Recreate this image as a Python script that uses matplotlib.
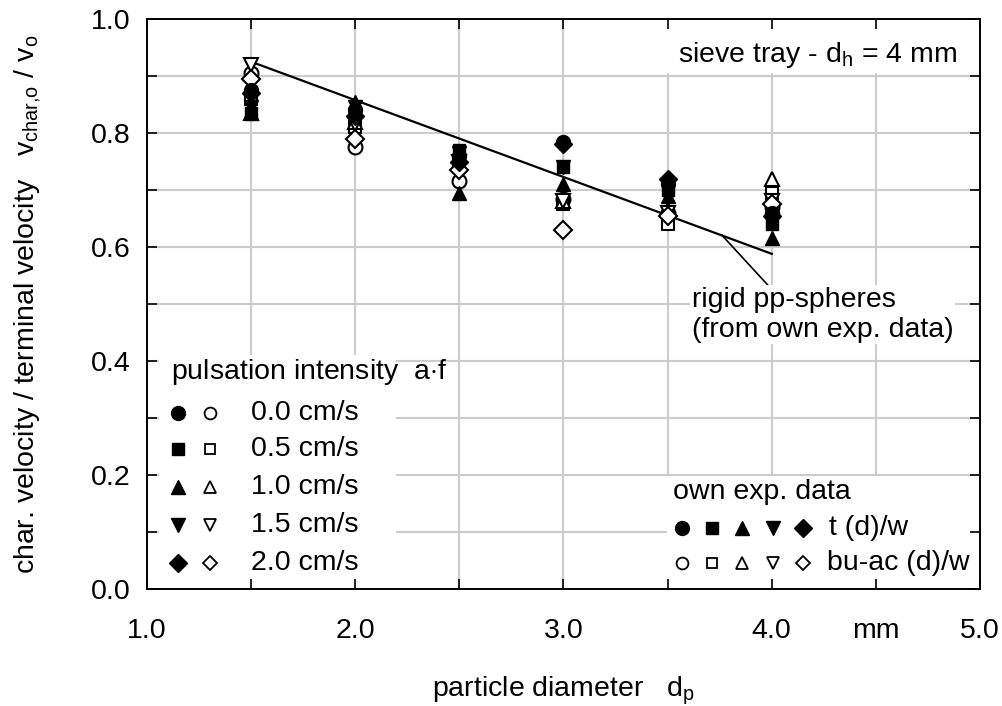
import numpy as np
import matplotlib
matplotlib.use("Agg")
import matplotlib.pyplot as plt
from matplotlib.patches import Rectangle

plt.rcParams["font.family"] = ["Liberation Sans", "DejaVu Sans"]
plt.rcParams["mathtext.fontset"] = "custom"
plt.rcParams["mathtext.rm"] = "Liberation Sans"
plt.rcParams["mathtext.it"] = "Liberation Sans"

# particle diameters (mm)
d_p = [1.5, 2.0, 2.5, 3.0, 3.5, 4.0]

# t (d)/w  -> filled markers, one list per pulsation intensity
t_00 = [0.875, 0.840, 0.760, 0.785, 0.710, 0.660]
t_05 = [0.835, 0.835, 0.770, 0.740, 0.700, 0.640]
t_10 = [0.835, 0.855, 0.695, 0.710, 0.690, 0.615]
t_15 = [0.845, 0.845, 0.765, 0.740, 0.700, 0.650]
t_20 = [0.870, 0.830, 0.750, 0.780, 0.720, 0.655]

# bu-ac (d)/w -> open markers
b_00 = [0.905, 0.775, 0.715, 0.685, 0.660, 0.670]
b_05 = [0.860, 0.810, 0.745, 0.675, 0.640, 0.695]
b_10 = [0.835, 0.820, 0.760, 0.680, 0.665, 0.720]
b_15 = [0.920, 0.815, 0.750, 0.680, 0.660, 0.680]
b_20 = [0.895, 0.790, 0.735, 0.630, 0.655, 0.675]

# rigid pp-spheres fit line end points
rigid_d = [1.5, 4.0]
rigid_v = [0.925, 0.588]

intensity_labels = ["0.0 cm/s", "0.5 cm/s", "1.0 cm/s", "1.5 cm/s", "2.0 cm/s"]
markers = ["o", "s", "^", "v", "D"]
msizes = [10, 9, 10, 10, 9]

fig = plt.figure(figsize=(10.03, 7.06), dpi=100)
ax = fig.add_axes([147 / 1003, 1 - 589 / 706, 833 / 1003, 570 / 706])

fs = 20.5
grid_c = "#cccccc"

ax.set_xlim(1.0, 5.0)
ax.set_ylim(0.0, 1.0)
for xg in np.arange(1.5, 5.0, 0.5):
    ax.axvline(xg, color=grid_c, lw=1.5, zorder=0)
for yg in np.arange(0.1, 1.0, 0.1):
    ax.axhline(yg, color=grid_c, lw=1.5, zorder=0)

# white boxes behind texts
for (x0, y0, w, h) in [(0.014, 0.002, 0.285, 0.408),
                       (0.624, 0.002, 0.375, 0.197),
                       (0.624, 0.905, 0.375, 0.093)]:
    ax.add_patch(Rectangle((x0, y0), w, h, transform=ax.transAxes,
                           facecolor="white", edgecolor="none", zorder=1))

ax.plot(rigid_d, rigid_v, color="black", lw=1.6, zorder=2)

filled = [t_00, t_05, t_10, t_15, t_20]
opened = [b_00, b_05, b_10, b_15, b_20]
for m, ms, yf, yo in zip(markers, msizes, filled, opened):
    ax.plot(d_p, yo, ls="none", marker=m, ms=ms, mfc="white", mec="black",
            mew=1.5, zorder=3)
    ax.plot(d_p, yf, ls="none", marker=m, ms=ms, mfc="black", mec="black",
            mew=1.0, zorder=4)

# ticks
ax.set_xticks([1.0, 2.0, 3.0, 4.0, 4.5, 5.0])
ax.set_xticklabels(["1.0", "2.0", "3.0", "4.0", "mm", "5.0"])
ax.set_xticks([1.5, 2.5, 3.5], minor=True)
ax.set_yticks([0.0, 0.2, 0.4, 0.6, 0.8, 1.0])
ax.set_yticklabels(["0.0", "0.2", "0.4", "0.6", "0.8", "1.0"])
ax.set_yticks([0.1, 0.3, 0.5, 0.7, 0.9], minor=True)
ax.tick_params(which="both", direction="in", top=True, right=True,
               length=7, width=1.2, labelsize=fs)
ax.tick_params(axis="x", pad=21)
ax.tick_params(axis="y", pad=12)
for s in ax.spines.values():
    s.set_linewidth(1.4)

ax.set_xlabel("particle diameter   d$_\\mathregular{p}$", fontsize=fs, labelpad=22)
ax.set_ylabel("char. velocity / terminal velocity   v$_\\mathregular{char{,}o}$ / v$_\\mathregular{o}$",
              fontsize=fs, labelpad=34)

# pulsation intensity legend
ax.text(0.0288, 0.381, "pulsation intensity  a$\\cdot$f", transform=ax.transAxes,
        fontsize=fs, va="center", ha="left", zorder=5)
rows_y = [0.309, 0.246, 0.179, 0.112, 0.046]
for m, ms, lab, ry in zip(markers, msizes, intensity_labels, rows_y):
    ax.plot([0.037], [ry], transform=ax.transAxes, ls="none", marker=m, ms=ms,
            mfc="black", mec="black", zorder=5, clip_on=False)
    ax.plot([0.076], [ry], transform=ax.transAxes, ls="none", marker=m, ms=ms - 1.5,
            mfc="white", mec="black", mew=1.3, zorder=5, clip_on=False)
    ax.text(0.125, ry, lab, transform=ax.transAxes, fontsize=fs,
            va="center", ha="left", zorder=5)

# own exp. data legend
ax.text(0.632, 0.170, "own exp. data", transform=ax.transAxes, fontsize=fs,
        va="center", ha="left", zorder=5)
leg_x = [0.642, 0.678, 0.714, 0.751, 0.787]
for m, ms, lx in zip(markers, msizes, leg_x):
    ax.plot([lx], [0.107], transform=ax.transAxes, ls="none", marker=m, ms=ms,
            mfc="black", mec="black", zorder=5)
    ax.plot([lx], [0.046], transform=ax.transAxes, ls="none", marker=m, ms=ms - 1.5,
            mfc="white", mec="black", mew=1.3, zorder=5)
ax.text(0.8185, 0.107, "t (d)/w", transform=ax.transAxes, fontsize=fs,
        va="center", ha="left", zorder=5)
ax.text(0.816, 0.046, "bu-ac (d)/w", transform=ax.transAxes, fontsize=fs,
        va="center", ha="left", zorder=5)

ax.text(0.637, 0.937, "sieve tray - d$_\\mathregular{h}$ = 4 mm", transform=ax.transAxes,
        fontsize=fs, va="center", ha="left", zorder=5)

# pointer and label for the rigid sphere line
ax.plot([3.76, 4.09], [0.621, 0.49], color="black", lw=1.2, zorder=2)
ax.text(3.616, 0.481, "rigid pp-spheres\n(from own exp. data)", fontsize=fs,
        va="center", ha="left", linespacing=1.2,
        bbox=dict(facecolor="white", edgecolor="none", pad=1), zorder=5)

fig.savefig("out.png", dpi=100)
